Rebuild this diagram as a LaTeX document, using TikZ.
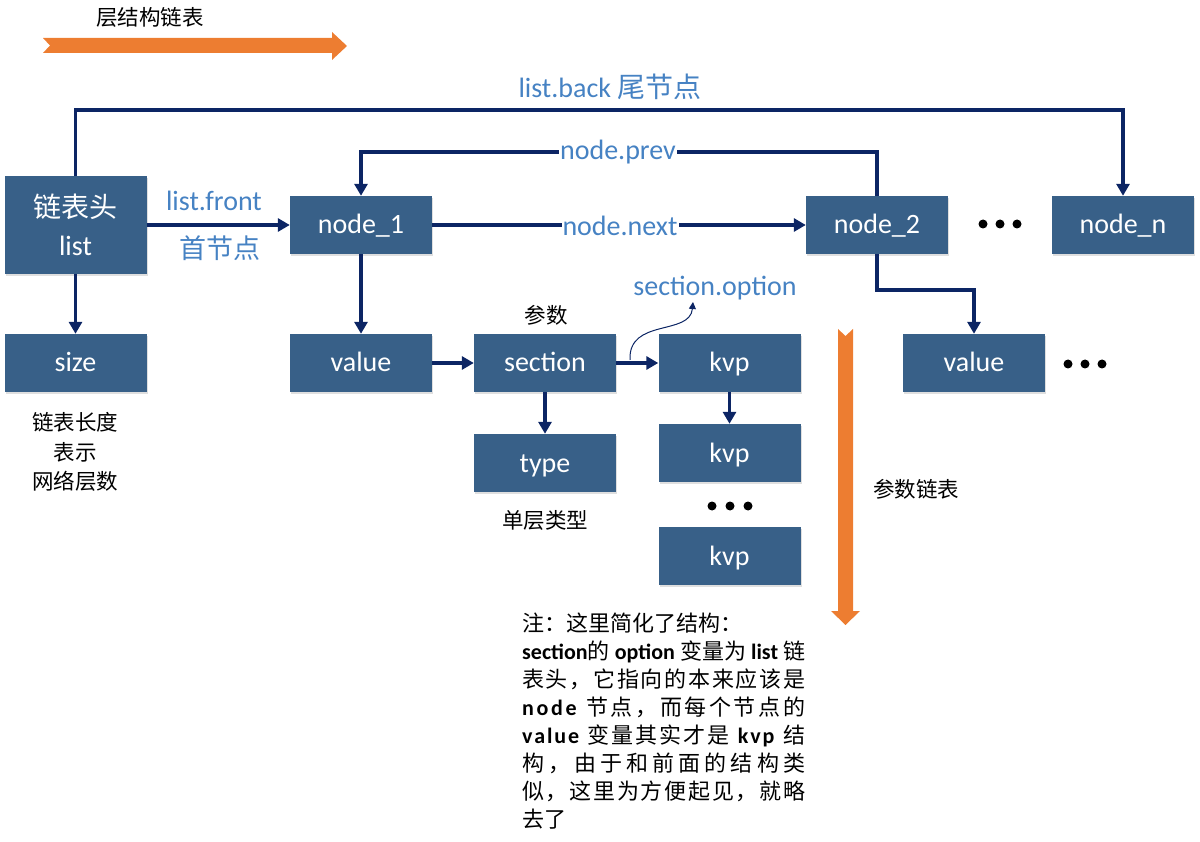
\documentclass[tikz,border=0pt]{standalone}
\usepackage{fontspec}
\setmainfont{Carlito}
\newfontfamily\cjk{Noto Sans CJK SC}
\usetikzlibrary{arrows.meta,shadows}
\definecolor{boxblue}{RGB}{56,96,136}
\definecolor{navy}{RGB}{12,37,100}
\definecolor{lblue}{RGB}{70,130,195}
\definecolor{orng}{RGB}{237,125,49}
\newcommand\jline[1]{\makebox[283pt][s]{\spaceskip=0pt plus 1fil\relax #1}}
\newcommand\lgap{\hskip 7pt plus 1fil\relax}
\tikzset{
  boxbase/.style={fill=boxblue, text=white, minimum width=142pt, minimum height=58pt,
    inner sep=0pt, font=\fontsize{28}{34}\selectfont,
    drop shadow={shadow xshift=1pt, shadow yshift=-2pt, opacity=0.25, fill=gray}},
  box/.style={boxbase, text height=18pt, text depth=0pt},
  conn/.style={draw=navy, line width=3.2pt, -{Triangle[length=12pt,width=13pt]}},
  blab/.style={text=lblue, font=\fontsize{28}{34}\selectfont, inner sep=1pt},
  klab/.style={text=black, font=\cjk\fontsize{21.5}{26}\selectfont, inner sep=0pt},
  note/.style={text=black, font=\fontsize{22}{26}\selectfont, inner sep=0pt, anchor=base west},
  bigarrow/.style={fill=orng, draw=none},
  dot/.style={fill=black, draw=none}
}
\begin{document}
\begin{tikzpicture}[x=1pt,y=-1pt]
\useasboundingbox (0,0) rectangle (1200,842);
% orange arrows
\fill[bigarrow] (43,38) -- (332,38) -- (332,32) -- (347,46) -- (332,60) -- (332,53) -- (43,53) -- (50,45.5) -- cycle;
\fill[bigarrow] (838,329) -- (845.5,336) -- (853,329) -- (853,611) -- (860,611) -- (845.5,625) -- (831,611) -- (838,611) -- cycle;
\node[klab] (title) at (150,17) {层结构链表};
\node[klab] (plabel) at (916,489) {参数链表};
% boxes
\node[boxbase, minimum height=98pt, align=center] (list) at (75.5,225) {{\cjk 链表头}\\[4pt]list};
\node[box] (node1) at (361,225) {node\_1};
\node[box] (node2) at (877,225) {node\_2};
\node[box] (noden) at (1123,225) {node\_n};
\node[box] (size) at (75.5,363) {size};
\node[box] (value) at (361,363) {value};
\node[box] (section) at (545,363) {section};
\node[box] (kvp1) at (729.5,363) {kvp};
\node[box] (type) at (545,463) {type};
\node[box] (kvp2) at (729.5,453) {kvp};
\node[box] (kvp3) at (729.5,556) {kvp};
\node[box] (value2) at (974,363) {value};
% dots
\foreach \x in {983,1000,1017} \fill[dot] (\x,224) circle (4.5);
\foreach \x in {1068,1085,1102} \fill[dot] (\x,364) circle (4.5);
\foreach \x in {712,730,748} \fill[dot] (\x,506) circle (4.5);
% helper coordinates
\coordinate (backY) at (0,110);
\coordinate (prevY) at (0,152);
\coordinate (v2Y) at (0,290);
\coordinate (optEnd) at (693,302);
% connectors
\draw[conn] (list.north) -- (list.north |- backY) -| (noden.north);
\draw[conn] (node2.north) -- (node2.north |- prevY) -| (node1.north);
\draw[conn] (node1.east) -- (node2.west);
\draw[conn] (list.east |- node1.west) -- (node1.west);
\draw[conn] (list.south) -- (size.north);
\draw[conn] (node1.south) -- (value.north);
\draw[conn] (value.east) -- (section.west);
\draw[conn] (section.east) -- (kvp1.west);
\draw[conn] (section.south) -- (type.north);
\draw[conn] (kvp1.south) -- (kvp2.north);
\draw[conn] (node2.south) -- (node2.south |- v2Y) -| (value2.north);
\draw[draw=navy, line width=1pt, -{Triangle[length=7pt,width=7pt]}] (630,360) .. controls (628,318) and (690,336) .. (optEnd);
% labels
\node[blab] (lback) at (610,87) {list.back {\cjk 尾节点}};
\node[blab, fill=white] (lprev) at (618,152) {node.prev};
\node[blab, fill=white] (lnext) at (620,226) {node.next};
\node[blab] (lfront) at (214,201) {list.front};
\node[blab, font=\cjk\fontsize{27}{32}\selectfont] (lfirst) at (220,248) {首节点};
\node[blab] (lopt) at (715,288) {section.option};
\node[klab] (lparam) at (546,315) {参数};
\node[klab] (ltype) at (545,520) {单层类型};
\node[klab] (ls1) at (75,422) {链表长度};
\node[klab] (ls2) at (75,452) {表示};
\node[klab] (ls3) at (75,481) {网络层数};
% note
\node[note] (n1) at (522,631) {\cjk 注：这里简化了结构：};
\node[note] (n2) at (522,659) {\jline{\textbf{section}{\cjk 的} \textbf{option} {\cjk 变量为} \textbf{list} {\cjk 链}}};
\node[note] (n3) at (522,687) {\cjk\jline{表 头 ， 它 指 向 的 本 来 应 该 是}};
\node[note] (n4) at (522,715) {\jline{\textbf{n o d e}\lgap{\cjk 节 点 ， 而 每 个 节 点 的}}};
\node[note] (n5) at (522,743) {\jline{\textbf{v a l u e}\lgap{\cjk 变 量 其 实 才 是}\lgap\textbf{k v p}\lgap{\cjk 结}}};
\node[note] (n6) at (522,771) {\cjk\jline{构 ， 由 于 和 前 面 的 结 构 类}};
\node[note] (n7) at (522,799) {\cjk\jline{似 ， 这 里 为 方 便 起 见 ， 就 略}};
\node[note] (n8) at (522,827) {\cjk 去了};
\end{tikzpicture}
\end{document}
